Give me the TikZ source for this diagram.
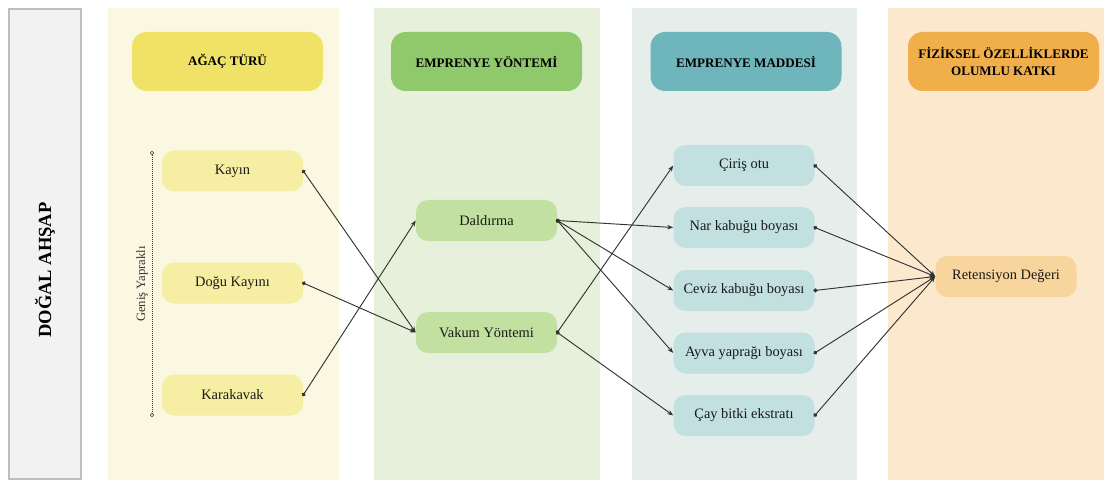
\documentclass[tikz,border=0pt]{standalone}
\usepackage{fontspec}
\setmainfont{Liberation Serif}
\usetikzlibrary{arrows.meta}
\definecolor{leftfill}{HTML}{F2F2F2}
\definecolor{leftdraw}{HTML}{BFBFBF}
\definecolor{bgA}{HTML}{FAF8E1}
\definecolor{hdA}{HTML}{EFE266}
\definecolor{itA}{HTML}{F6EEA2}
\definecolor{bgB}{HTML}{E7F0DA}
\definecolor{hdB}{HTML}{90C86C}
\definecolor{itB}{HTML}{C2E1A0}
\definecolor{bgC}{HTML}{E6EEEC}
\definecolor{hdC}{HTML}{6EB6BB}
\definecolor{itC}{HTML}{C3E0E1}
\definecolor{bgD}{HTML}{FBE8CD}
\definecolor{hdD}{HTML}{F1AF4C}
\definecolor{itD}{HTML}{F8D59D}
\begin{document}
\begin{tikzpicture}[x=0.75pt,y=-0.75pt,
  hdr/.style={rounded corners=11pt, minimum width=143.25pt, minimum height=44.25pt, inner sep=0pt,
     align=center, font=\fontsize{9.8}{12.5}\selectfont\bfseries},
  item/.style={rounded corners=9pt, minimum width=105.75pt, minimum height=30.75pt, inner sep=0pt,
     font=\fontsize{10.8}{13}\selectfont, text=black!90},
  conn/.style={line width=0.7pt, draw=black!80, shorten <=-1pt, {Circle[length=3pt]}-{Stealth[length=4.5pt,width=3.4pt]}}
]
\useasboundingbox (0,0) rectangle (1110,481);
\fill[white] (0,0) rectangle (1110,481);
% left box
\draw[fill=leftfill, draw=leftdraw, line width=1.6pt] (9,9) rectangle (81,479);
\node[rotate=90, font=\fontsize{13.9}{16}\selectfont\bfseries] (dogal) at (45,270) {DOĞAL AHŞAP};
% column backgrounds
\fill[bgA] (108,8) rectangle (339,480);
\fill[bgB] (374,8) rectangle (600,480);
\fill[bgC] (632,8) rectangle (857,480);
\fill[bgD] (888,8) rectangle (1104,480);
% headers
\node[hdr, fill=hdA] (hA) at (227.5,61.5) {AĞAÇ TÜRÜ};
\node[hdr, fill=hdB] (hB) at (486.5,61.5) {EMPRENYE YÖNTEMİ};
\node[hdr, fill=hdC] (hC) at (746,61.5) {EMPRENYE MADDESİ};
\node[hdr, fill=hdD] (hD) at (1003.5,61.5) {FİZİKSEL ÖZELLİKLERDE\\OLUMLU KATKI};
% column A
\node[item, fill=itA] (kayin) at (232.5,171) {Kayın};
\node[item, fill=itA] (dogu) at (232.5,283) {Doğu Kayını};
\node[item, fill=itA] (kara) at (232.5,395) {Karakavak};
\coordinate (gtop) at (152,153);
\coordinate (gbot) at (152,415);
\draw[densely dotted, line width=0.5pt, black!80] (gtop) -- (gbot);
\draw[black!80, line width=0.4pt, fill=white] (gtop) circle (1.3pt);
\draw[black!80, line width=0.4pt, fill=white] (gbot) circle (1.3pt);
\node[rotate=90, font=\fontsize{9.5}{11}\selectfont, text=black!80] (genis) at (142,284) {Geniş Yapraklı};
% column B
\node[item, fill=itB] (daldir) at (486.5,220.5) {Daldırma};
\node[item, fill=itB] (vakum) at (486.5,332.5) {Vakum Yöntemi};
% column C
\node[item, fill=itC] (ciris) at (744,165.5) {Çiriş otu};
\node[item, fill=itC] (nar) at (744,227.5) {Nar kabuğu boyası};
\node[item, fill=itC] (ceviz) at (744,290.5) {Ceviz kabuğu boyası};
\node[item, fill=itC] (ayva) at (744,353) {Ayva yaprağı boyası};
\node[item, fill=itC] (cay) at (744,415.5) {Çay bitki ekstratı};
% column D
\node[item, fill=itD] (ret) at (1006,276.5) {Retensiyon Değeri};
% connectors
\draw[conn] (kayin.east) -- (vakum.west);
\draw[conn] (dogu.east) -- (vakum.west);
\draw[conn] (kara.east) -- (daldir.west);
\draw[conn] (daldir.east) -- (nar.west);
\draw[conn] (daldir.east) -- (ceviz.west);
\draw[conn] (daldir.east) -- (ayva.west);
\draw[conn] (vakum.east) -- (ciris.west);
\draw[conn] (vakum.east) -- (cay.west);
\draw[conn] (ciris.east) -- (ret.west);
\draw[conn] (nar.east) -- (ret.west);
\draw[conn] (ceviz.east) -- (ret.west);
\draw[conn] (ayva.east) -- (ret.west);
\draw[conn] (cay.east) -- (ret.west);
\end{tikzpicture}
\end{document}
